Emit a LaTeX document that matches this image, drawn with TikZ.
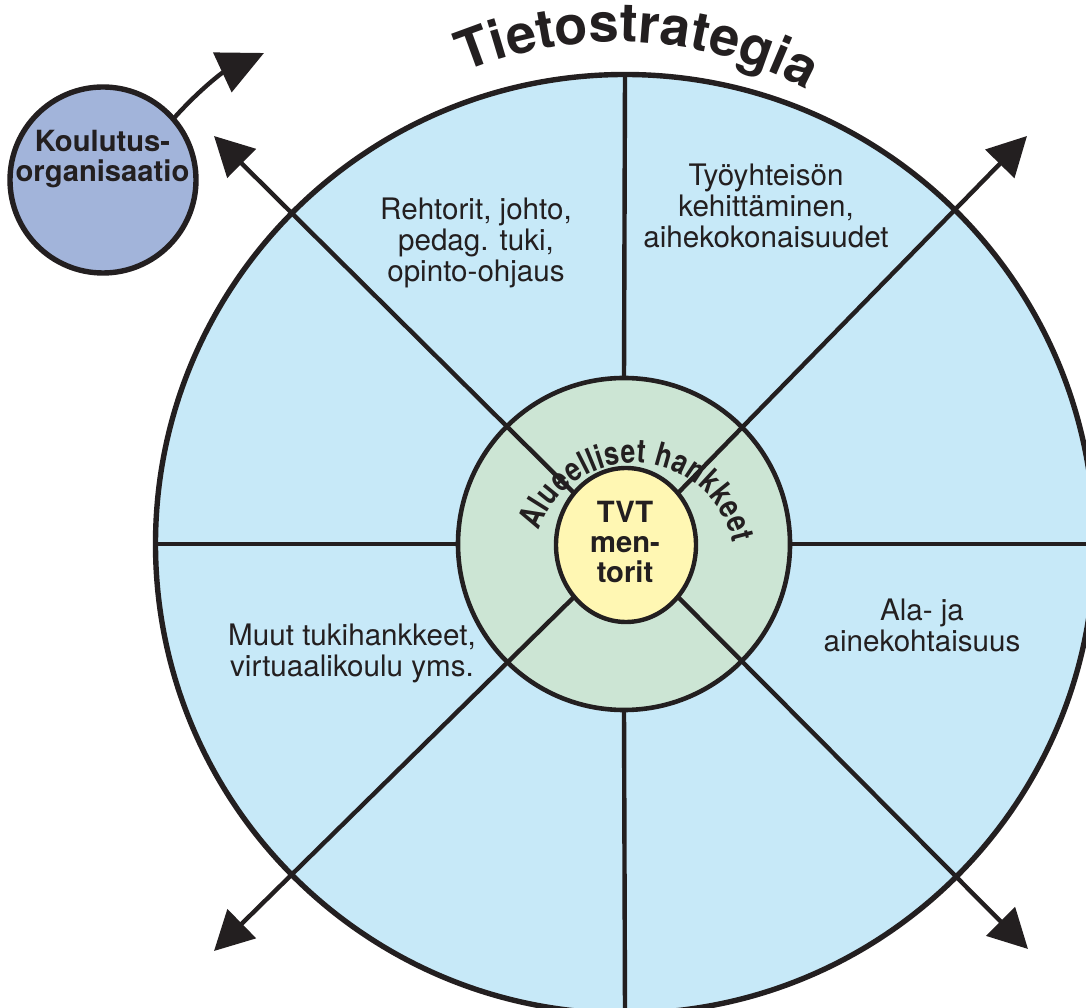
\documentclass[tikz,border=0pt]{standalone}
\usepackage{fontspec}
\setmainfont{TeX Gyre Heros}
\newfontfamily\condbf[FakeStretch=0.8]{TeX Gyre Heros}
\usetikzlibrary{shapes.geometric,arrows.meta,decorations.text}
\definecolor{ink}{HTML}{231F20}
\definecolor{bluefill}{HTML}{C7E9F8}
\definecolor{greenfill}{HTML}{CCE5D4}
\definecolor{yellowfill}{HTML}{FFF7B3}
\definecolor{koufill}{HTML}{A2B4DA}
\tikzset{
  disc/.style={circle, draw=ink, inner sep=0pt, outer sep=0pt},
  divider/.style={draw=ink, line width=2.2pt},
  spoke/.style={draw=ink, line width=2.2pt, -{Triangle[length=19.5pt,width=20pt]}},
  sectortext/.style={font=\fontsize{14.8}{15.5}\selectfont, align=center, text=ink, inner sep=0pt},
  boldtext/.style={font=\bfseries\fontsize{14.6}{15}\selectfont, align=center, text=ink, inner sep=0pt},
}
\begin{document}
\begin{tikzpicture}[x=0.5pt,y=0.5pt]
\clip (0,0) rectangle (1086,1007);
% main discs
\node[disc, fill=bluefill, line width=2.7pt, minimum size=469.5pt] (big) at (625,463) {};
\node[disc, fill=greenfill, line width=2.3pt, minimum size=166pt] (green) at (624,463) {};
\node[ellipse, draw=ink, fill=yellowfill, line width=2.2pt, inner sep=0pt, outer sep=0pt,
      minimum width=70pt, minimum height=77pt] (yel) at (626,462) {};
% dividers
\draw[divider] (big.west) -- (green.west);
\draw[divider] (big.east) -- (green.east);
\draw[divider] (big.north) -- (green.north);
\draw[divider] (big.south) -- (green.south);
% arrow tips
\coordinate (tipNW) at (214,871);
\coordinate (tipNE) at (1027,871);
\coordinate (tipSW) at (214,56);
\coordinate (tipSE) at (1028,58);
\draw[spoke] (yel.135) -- (tipNW);
\draw[spoke] (yel.45) -- (tipNE);
\draw[spoke] (yel.225) -- (tipSW);
\draw[spoke] (yel.315) -- (tipSE);
% Koulutusorganisaatio
\node[disc, fill=koufill, line width=2.7pt, minimum size=93pt] (kou) at (103,827) {};
\node[boldtext] (tKou) at (102.5,847.6) {Koulutus-\\organisaatio};
\coordinate (kouTip) at (264,954);
\draw[draw=ink, line width=2.2pt, -{Triangle[length=23pt,width=21.5pt]}] (kou.41) to[out=48,in=205] (kouTip);
% sector texts
\node[sectortext] (tRehtorit) at (476,764) {Rehtorit, johto,\\pedag. tuki,\\opinto-ohjaus};
\node[sectortext] (tTyo) at (766,801.5) {Työyhteisön\\kehittäminen,\\aihekokonaisuudet};
\node[sectortext] (tMuut) at (352,354) {Muut tukihankkeet,\\virtuaalikoulu yms.};
\node[sectortext] (tAla) at (922,381.7) {Ala- ja\\ainekohtaisuus};
\node[boldtext] (tTVT) at (625,465.5) {TVT\\men-\\torit};
% curved titles
\coordinate (tsC) at (617,567);
\path[decorate, decoration={text along path, text align=fit to path,
  text={|\color{ink}\bfseries\fontsize{27}{27}\selectfont|Tietostrategia}}]
  ([shift={(112.5:398)}]tsC) arc[start angle=112.5, end angle=62, radius=398];
\coordinate (ahC) at (634,443);
\path[decorate, decoration={text along path, text align=fit to path,
  text={|\color{ink}\condbf\bfseries\fontsize{16.5}{16.5}\selectfont|Alueelliset hankkeet}}]
  ([shift={(161:101)}]ahC) arc[start angle=161, end angle=12, radius=101];
\end{tikzpicture}
\end{document}
